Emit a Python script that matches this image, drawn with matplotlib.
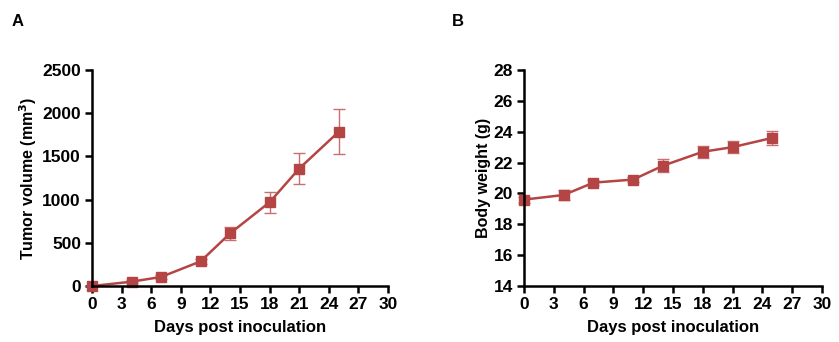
import numpy as np
import matplotlib
matplotlib.use('Agg')
import matplotlib.pyplot as plt

plt.rcParams['font.family'] = ['Liberation Sans', 'DejaVu Sans']
plt.rcParams['font.weight'] = 'bold'

days = [0, 4, 7, 11, 14, 18, 21, 25]
tumor = [0, 50, 105, 285, 610, 970, 1360, 1785]
tumor_err = [0, 15, 20, 25, 75, 120, 175, 260]
weight = [19.6, 19.9, 20.7, 20.9, 21.8, 22.7, 23.0, 23.6]
weight_err = [0.2, 0.3, 0.15, 0.15, 0.4, 0.4, 0.4, 0.45]
xticks = list(range(0, 31, 3))

color = '#b54545'

fig = plt.figure(figsize=(8.39, 3.42), dpi=100)
ax1 = fig.add_axes([0.1097, 0.1637, 0.3528, 0.6316])
ax2 = fig.add_axes([0.6245, 0.1637, 0.3552, 0.6316])

def style(ax):
    ax.spines['top'].set_visible(False)
    ax.spines['right'].set_visible(False)
    ax.spines['left'].set_linewidth(1.8)
    ax.spines['bottom'].set_linewidth(1.8)
    ax.tick_params(width=1.8, length=5, labelsize=12.5, pad=3)
    ax.set_xlim(0, 30)
    ax.set_xticks(xticks)
    ax.set_xlabel('Days post inoculation', fontsize=12, fontweight='bold', labelpad=6)
    for lab in ax.get_xticklabels() + ax.get_yticklabels():
        lab.set_fontweight('bold')

ax1.errorbar(days, tumor, yerr=tumor_err, color=color, marker='s', ms=7,
             lw=1.8, capsize=4, elinewidth=1, ecolor='#c87070', clip_on=False)
ax1.set_ylim(0, 2500)
ax1.set_yticks(range(0, 2501, 500))
ax1.set_ylabel('Tumor volume (mm$^\\mathbf{3}$)', fontsize=11.5, fontweight='bold', labelpad=2)
style(ax1)

ax2.errorbar(days, weight, yerr=weight_err, color=color, marker='s', ms=7,
             lw=1.8, capsize=4, elinewidth=1, ecolor='#c87070', clip_on=False)
ax2.set_ylim(14, 28)
ax2.set_yticks(range(14, 29, 2))
ax2.set_ylabel('Body weight (g)', fontsize=11.5, fontweight='bold', labelpad=2)
style(ax2)

fig.text(12/839, 1 - 22/342, 'A', fontsize=12, fontweight='bold', va='center')
fig.text(452/839, 1 - 22/342, 'B', fontsize=12, fontweight='bold', va='center')

fig.savefig('out.png', dpi=100)
plt.close(fig)
